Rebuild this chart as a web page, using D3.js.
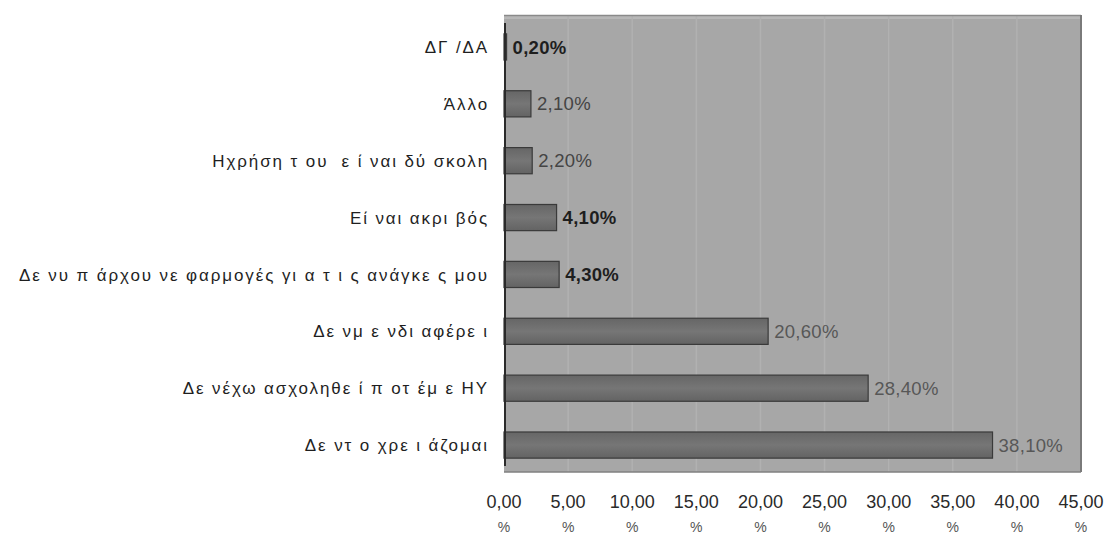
<!DOCTYPE html>
<html>
<head>
<meta charset="utf-8">
<script src="https://cdn.jsdelivr.net/npm/d3@7/dist/d3.min.js"></script>
<style>
  html, body { margin: 0; padding: 0; background: #fff; }
  svg { display: block; }
  text { font-family: "Liberation Sans", Arial, sans-serif; }
</style>
</head>
<body>
<svg id="chart" width="1110" height="536"></svg>
<script>
// Reasons for not using a computer (share of respondents)
const categories = [
  "ΔΓ /ΔΑ",
  "Άλλο",
  "Ηχρήση τ ου  ε ί ναι δύ σκολη",
  "Εί ναι ακρι βός",
  "Δε νυ π άρχου νε φαρμογές γι α τ ι ς ανάγκε ς μου",
  "Δε νμ ε νδι αφέρε ι",
  "Δε νέχω ασχοληθε ί π οτ έμ ε ΗΥ",
  "Δε ντ ο χρε ι άζομαι"
];
const values = [0.2, 2.1, 2.2, 4.1, 4.3, 20.6, 28.4, 38.1];
const tickValues = [0, 5, 10, 15, 20, 25, 30, 35, 40, 45];

// value labels printed darker and bold
const strongLabels = new Set([0, 3, 4]);

const svg = d3.select("#chart");
const plot = { left: 504, right: 1081, top: 15, bottom: 472 };

const x = d3.scaleLinear().domain([0, 45]).range([plot.left, plot.right]);
const y = d3.scaleBand()
  .domain(categories)
  .range([plot.top + 3.5, plot.bottom + 1.5])
  .paddingInner(0.54)
  .paddingOuter(0.27);

const comma = v => d3.format(".2f")(v).replace(".", ",");

// plot background
svg.append("rect")
  .attr("x", plot.left).attr("y", plot.top)
  .attr("width", plot.right - plot.left).attr("height", plot.bottom - plot.top)
  .attr("fill", "#a7a7a7");

// faint top strip
svg.append("rect")
  .attr("x", plot.left).attr("y", plot.top)
  .attr("width", plot.right - plot.left).attr("height", 4)
  .attr("fill", "#b7b7b7");

// vertical grid lines
svg.append("g")
  .selectAll("line")
  .data(tickValues.slice(1, -1))
  .join("line")
  .attr("x1", d => x(d)).attr("x2", d => x(d))
  .attr("y1", plot.top).attr("y2", plot.bottom)
  .attr("stroke", "#b1b1b1")
  .attr("stroke-width", 1.5);

// plot frame
svg.append("line")
  .attr("x1", plot.left).attr("x2", plot.right)
  .attr("y1", plot.top + 0.5).attr("y2", plot.top + 0.5)
  .attr("stroke", "#8a8a8a").attr("stroke-width", 1.5);
svg.append("line")
  .attr("x1", plot.right).attr("x2", plot.right)
  .attr("y1", plot.top).attr("y2", plot.bottom)
  .attr("stroke", "#7a7a7a").attr("stroke-width", 2);
svg.append("line")
  .attr("x1", plot.left).attr("x2", plot.right)
  .attr("y1", plot.bottom).attr("y2", plot.bottom)
  .attr("stroke", "#808080").attr("stroke-width", 1.5);

// bar gradient
const defs = svg.append("defs");
const grad = defs.append("linearGradient")
  .attr("id", "barFill").attr("x1", 0).attr("x2", 0).attr("y1", 0).attr("y2", 1);
grad.append("stop").attr("offset", "0%").attr("stop-color", "#666666");
grad.append("stop").attr("offset", "50%").attr("stop-color", "#767676");
grad.append("stop").attr("offset", "100%").attr("stop-color", "#636363");

// bars
svg.append("g")
  .selectAll("rect")
  .data(values)
  .join("rect")
  .attr("x", x(0))
  .attr("y", (d, i) => y(categories[i]))
  .attr("width", d => x(d) - x(0))
  .attr("height", y.bandwidth())
  .attr("fill", "url(#barFill)")
  .attr("stroke", "#3a3a3a")
  .attr("stroke-width", 1.2);

// category axis line
svg.append("line")
  .attr("x1", plot.left + 1).attr("x2", plot.left + 1)
  .attr("y1", plot.top + 8).attr("y2", plot.bottom - 6)
  .attr("stroke", "#2a2a2a").attr("stroke-width", 2);

// value labels
svg.append("g")
  .selectAll("text")
  .data(values)
  .join("text")
  .attr("x", d => x(d) + 6)
  .attr("y", (d, i) => y(categories[i]) + y.bandwidth() / 2)
  .attr("dy", "0.36em")
  .attr("font-size", 18.5)
  .attr("letter-spacing", 0.3)
  .attr("font-weight", (d, i) => strongLabels.has(i) ? "bold" : "normal")
  .attr("fill", (d, i) => strongLabels.has(i) ? "#1e1e1e" : (i < 3 ? "#444" : "#575757"))
  .text(d => comma(d) + "%");

// category labels
svg.append("g")
  .selectAll("text")
  .data(categories)
  .join("text")
  .attr("x", 489)
  .attr("y", d => y(d) + y.bandwidth() / 2)
  .attr("dy", "0.36em")
  .attr("text-anchor", "end")
  .attr("font-size", 17)
  .attr("letter-spacing", 1.9)
  .attr("fill", "#1f1f1f")
  .style("white-space", "pre")
  .text(d => d);

// value axis tick labels, number and percent sign on two lines
const ticks = svg.append("g").selectAll("g")
  .data(tickValues)
  .join("g")
  .attr("transform", d => `translate(${x(d)},0)`);
ticks.append("text")
  .attr("y", 502).attr("dy", "0.36em")
  .attr("text-anchor", "middle")
  .attr("font-size", 18)
  .attr("fill", "#2a2a2a")
  .text(d => comma(d));
ticks.append("text")
  .attr("y", 527).attr("dy", "0.36em")
  .attr("text-anchor", "middle")
  .attr("font-size", 14)
  .attr("fill", "#555")
  .text("%");
</script>
</body>
</html>
